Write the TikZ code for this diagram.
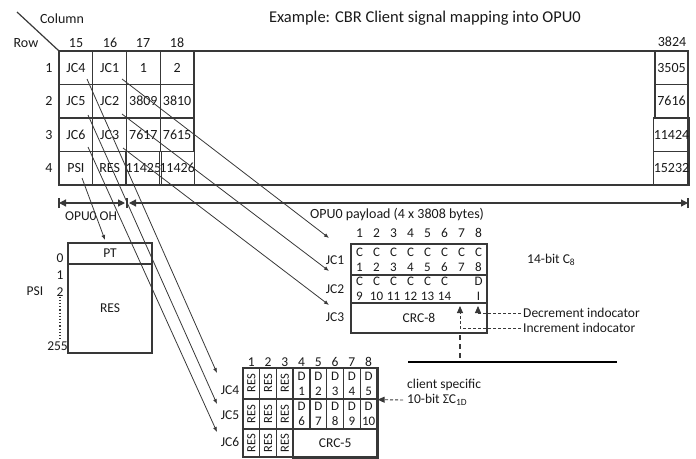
\documentclass[tikz,border=0pt]{standalone}
\usepackage{fontspec}
\setmainfont{Carlito}
\usetikzlibrary{arrows.meta}
\newcommand\myfs[1]{\fontsize{#1}{#1}\selectfont}
\definecolor{lc}{HTML}{383838}
\definecolor{tc}{HTML}{1A1A1A}
\begin{document}
\begin{tikzpicture}[x=1pt,y=-1pt,
  every node/.style={text=tc, inner sep=0pt},
  ln/.style={draw=lc, line width=1.2pt},
  cell/.style={ln, minimum width=33.75pt, minimum height=33.5pt, font=\myfs{14}},
  rcell/.style={ln, minimum width=33pt, minimum height=33.5pt, font=\myfs{14}},
  lbl/.style={font=\myfs{14}},
  sml/.style={font=\myfs{13.5}},
  two/.style={align=center, font=\fontsize{13}{15}\selectfont},
  rc/.style={ln, minimum width=16.75pt, font=\myfs{12}},
  map/.style={draw=lc, line width=0.8pt, -{Latex[length=5pt,width=4pt]}},
  dimar/.style={draw=lc, line width=1.2pt, {Triangle[length=7pt,width=7pt]}-{Triangle[length=7pt,width=7pt]}},
  tick/.style={draw=lc, line width=1.2pt},
  ind/.style={draw=lc, line width=0.9pt, densely dashed, -{Triangle[length=7pt,width=6pt]}},
]
\useasboundingbox (0,0) rectangle (696,458);

% title and axis labels
\node[font=\myfs{16.5}] (title) at (425,18) {Example: CBR Client signal mapping into OPU0};
\node[lbl] (colw) at (62,19) {Column};
\node[lbl] (roww) at (26,43) {Row};

% top grid
\draw[ln] (59,51) rectangle (688,185);
\foreach \r/\y in {1/67.75,2/101.25,3/134.75,4/168.25}{
  \node[lbl] (rl\r) at (49,\y) {\r};
}
\node[cell] (g11) at (75.875,67.75) {JC4};
\node[cell] (g12) at (109.625,67.75) {JC1};
\node[cell] (g13) at (143.375,67.75) {1};
\node[cell] (g14) at (177.125,67.75) {2};
\node[cell] (g21) at (75.875,101.25) {JC5};
\node[cell] (g22) at (109.625,101.25) {JC2};
\node[cell] (g23) at (143.375,101.25) {3809};
\node[cell] (g24) at (177.125,101.25) {3810};
\node[cell] (g31) at (75.875,134.75) {JC6};
\node[cell] (g32) at (109.625,134.75) {JC3};
\node[cell] (g33) at (143.375,134.75) {7617};
\node[cell] (g34) at (177.125,134.75) {7615};
\node[cell] (g41) at (75.875,168.25) {PSI};
\node[cell] (g42) at (109.625,168.25) {RES};
\node[cell] (g43) at (143.375,168.25) {11425};
\node[cell] (g44) at (177.125,168.25) {11426};
\node[rcell] (gr1) at (671.5,67.75) {3505};
\node[rcell] (gr2) at (671.5,101.25) {7616};
\node[rcell] (gr3) at (671.5,134.75) {11424};
\node[rcell] (gr4) at (671.5,168.25) {15232};
\node[lbl] (h15) at (76,43) {15};
\node[lbl] (h16) at (110,43) {16};
\node[lbl] (h17) at (143,43) {17};
\node[lbl] (h18) at (177,43) {18};
\node[lbl] (h3824) at (672,42) {3824};
\coordinate (dg) at (17,12);
\draw[draw=lc, line width=1.2pt] (dg) -- (g11.north west);

% dimension arrows
\coordinate (d0) at (59,203);
\coordinate (d1) at (127,203);
\coordinate (d2) at (688,203);
\draw[dimar] (d0) -- ([xshift=-2pt]d1);
\draw[dimar] ([xshift=2pt]d1) -- (d2);
\foreach \p in {d0,d1,d2}{ \draw[tick] ([yshift=-5pt]\p) -- ([yshift=5pt]\p); }
\node[sml] (ohl) at (91,216) {OPU0 OH};
\node[font=\myfs{14}] (pll) at (397,215) {OPU0 payload (4 x 3808 bytes)};

% PSI box
\node[ln, minimum width=84pt, minimum height=21pt, font=\myfs{13.5}] (pt) at (110,253.5) {PT};
\node[ln, minimum width=84pt, minimum height=89pt, font=\myfs{13.5}] (pres) at (110,308.5) {RES};
\node[sml] (p0) at (60,258) {0};
\node[sml] (p1) at (60,275) {1};
\node[sml] (p2) at (60,292) {2};
\node[sml, anchor=east] (p255) at (68,346) {255};
\node[sml] (psil) at (35,291) {PSI};
\draw[draw=lc, line width=1.2pt, dotted] (p2.south) -- (p255.north -| p2.south);

% payload JC box
\node[ln, minimum width=136pt, minimum height=31pt] (jr1) at (419,259.5) {};
\node[ln, minimum width=136pt, minimum height=28pt] (jr2) at (419,289) {};
\node[ln, minimum width=136pt, minimum height=30pt, font=\myfs{13.5}] (jr3) at (419,318) {CRC-8};
\foreach \i in {1,...,8}{
  \pgfmathsetmacro\xx{351+8.5+17*(\i-1)}
  \node[sml] (ph\i) at (\xx,233) {\i};
  \node[two] (c\i) at (\xx,260) {C\\\i};
}
\foreach \i/\n in {1/9,2/10,3/11,4/12,5/13,6/14}{
  \pgfmathsetmacro\xx{351+8.5+17*(\i-1)}
  \node[two] (cc\i) at (\xx,289) {C\\\n};
}
\node[two] (di) at (478.5,289) {D\\I};
\node[sml] (ljc1) at (335,260) {JC1};
\node[sml] (ljc2) at (335,289) {JC2};
\node[sml] (ljc3) at (335,317) {JC3};
\node[sml, anchor=west] (c8l) at (527,260) {14-bit C\textsubscript{8}};

% indicators
\node[sml, anchor=west] (dec) at (523,313) {Decrement indocator};
\node[sml, anchor=west] (inc) at (523,328) {Increment indocator};
\coordinate (dtip) at (478,306);
\coordinate (itip) at (460,306);
\draw[ind] ([xshift=-2pt]dec.west) -| (dtip);
\draw[ind] ([xshift=-2pt]inc.west) -| (itip);
\coordinate (vb) at (460,335);
\coordinate (vt) at (460,361);
\draw[draw=lc, line width=1.2pt, dash pattern=on 5pt off 4pt] (vb) -- (vt);
\coordinate (tl) at (408,362);
\coordinate (tr) at (617,362);
\draw[draw=black, line width=2.2pt] (tl) -- (tr);

% RES / D table
\foreach \i in {1,...,8}{
  \pgfmathsetmacro\xx{243+8.375+16.75*(\i-1)}
  \node[sml] (rh\i) at (\xx,362) {\i};
}
\foreach \r/\y/\h in {1/383.5/31,2/414/30,3/443/28}{
  \foreach \i in {1,2,3}{
    \pgfmathsetmacro\xx{243+8.375+16.75*(\i-1)}
    \node[rc, minimum height=\h pt] (rs\r\i) at (\xx,\y) {};
    \node[rotate=90, font=\myfs{12.5}] at (\xx,\y) {RES};
  }
}
\foreach \i/\n in {4/1,5/2,6/3,7/4,8/5}{
  \pgfmathsetmacro\xx{243+8.375+16.75*(\i-1)}
  \node[rc, minimum height=31pt, two] (da\i) at (\xx,383.5) {D\\\n};
}
\foreach \i/\n in {4/6,5/7,6/8,7/9,8/10}{
  \pgfmathsetmacro\xx{243+8.375+16.75*(\i-1)}
  \node[rc, minimum height=30pt, two] (db\i) at (\xx,414) {D\\\n};
}
\node[ln, minimum width=83.75pt, minimum height=28pt, font=\myfs{13.5}] (crc5) at (335.125,443) {CRC-5};
\draw[draw=lc, line width=1.8pt] (da4.north west) rectangle (crc5.south east);
\node[sml] (ljc4) at (230,390) {JC4};
\node[sml] (ljc5) at (230,415) {JC5};
\node[sml] (ljc6) at (230,442) {JC6};
\node[sml, anchor=west] (csp1) at (407,385) {client specific};
\node[sml, anchor=west] (csp2) at (407,400) {10-bit ΣC\textsubscript{1D}};
\draw[ind] ([xshift=-4pt]csp2.west) -- (da8.south east);

% mapping arrows
\coordinate (s4) at (87,79);
\coordinate (s5) at (88,115);
\coordinate (s6) at (88,147);
\coordinate (s1) at (122,79);
\coordinate (s2) at (122,114);
\coordinate (s3) at (123,148);
\coordinate (sp) at (82,178);
\coordinate (e1) at (329,238);
\coordinate (e2) at (329,271);
\coordinate (e3) at (329,305);
\coordinate (e4) at (217,373);
\coordinate (e5) at (217,404);
\coordinate (e6) at (217,432);
\coordinate (ep) at (105,240);
\draw[map] (s1) -- (e1);
\draw[map] (s2) -- (e2);
\draw[map] (s3) -- (e3);
\draw[map] (s4) -- (e4);
\draw[map] (s5) -- (e5);
\draw[map] (s6) -- (e6);
\draw[map] (sp) -- (ep);
\end{tikzpicture}
\end{document}
